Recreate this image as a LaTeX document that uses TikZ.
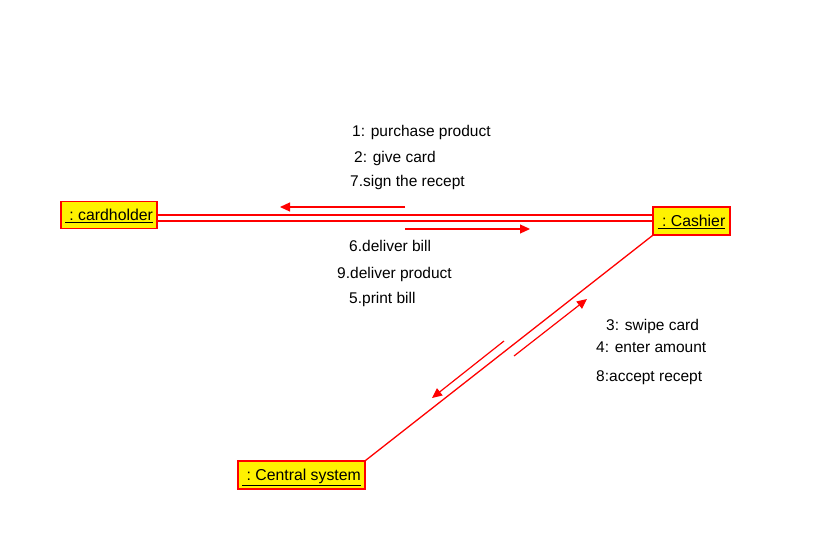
\documentclass[tikz,border=0pt]{standalone}
\usepackage{fontspec}
\setmainfont{Liberation Sans}
\usetikzlibrary{arrows.meta}

\newcommand{\objname}[1]{\raisebox{0pt}[\height][0pt]{\underline{\ :\ #1}}}

\begin{document}
\begin{tikzpicture}[x=1pt,y=-1pt,
        obj/.style={draw=red,fill=yellow,line width=1.2pt,inner sep=0pt,font=\fontsize{15.8}{18}\selectfont},
        link/.style={draw=red,line width=1.3pt},
        msg/.style={draw=red,line width=1.2pt,-{Triangle[length=10pt,width=9pt,fill=red]}},
        lbl/.style={anchor=base west,inner sep=0pt,font=\fontsize{15.5}{18}\selectfont}]
        \useasboundingbox (0,0) rectangle (826,559);
        \node [obj,minimum width=96pt,minimum height=27pt] (cardholder) at (109,215) {\objname{cardholder}};
        \node [obj,minimum width=77pt,minimum height=28pt] (cashier) at (691.5,221) {\objname{Cashier}};
        \node [obj,minimum width=127pt,minimum height=28pt] (central) at (301.5,475) {\objname{Central system}};
        \draw [link] (cardholder.east) -- (cardholder.east -| cashier.west);
        \draw [link] (cashier.west -| cardholder.east) -- (cashier.west);
        \draw [link] (cashier.south west) -- (central.north east);
        \coordinate (m1s) at (405,207);
        \coordinate (m1e) at (280,207);
        \coordinate (m2s) at (405,229);
        \coordinate (m2e) at (530,229);
        \coordinate (m3s) at (504,341);
        \coordinate (m3e) at (432,398);
        \coordinate (m4s) at (514,356);
        \coordinate (m4e) at (587,299);
        \draw [msg] (m1s) -- (m1e);
        \draw [msg] (m2s) -- (m2e);
        \draw [msg] (m3s) -- (m3e);
        \draw [msg] (m4s) -- (m4e);
        \node [lbl] (l1) at (352,136.5) {1: purchase product};
        \node [lbl] (l2) at (354,162.5) {2: give card};
        \node [lbl] (l7) at (350,186.7) {7.sign the recept};
        \node [lbl] (l6) at (349,251) {6.deliver bill};
        \node [lbl] (l9) at (337,278.7) {9.deliver product};
        \node [lbl] (l5) at (349,303.7) {5.print bill};
        \node [lbl] (l3) at (606,330) {3: swipe card};
        \node [lbl] (l4) at (596,352.7) {4: enter amount};
        \node [lbl] (l8) at (596,381.7) {8:accept recept};
\end{tikzpicture}
\end{document}
